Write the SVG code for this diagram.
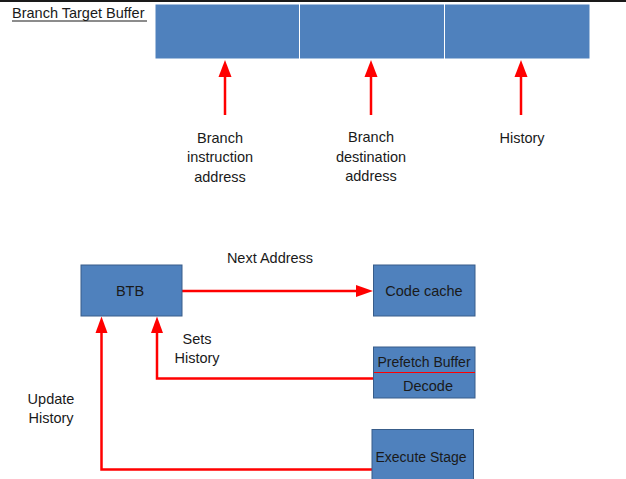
<svg xmlns="http://www.w3.org/2000/svg" width="626" height="479" viewBox="0 0 626 479">
<style>
text{font-family:"Liberation Sans",Arial,sans-serif;font-size:14.5px;fill:#1a1a1a;text-anchor:middle}
.box{fill:#4F81BD;stroke:#385D8A;stroke-width:1}
.cell{fill:#4F81BD;stroke:#ffffff;stroke-width:1}
.wire{fill:none;stroke:#FF0000;stroke-width:2.5}
.ar{fill:#FF0000}
</style>
<rect width="626" height="479" fill="#ffffff"/>
<line x1="0" y1="1" x2="626" y2="1" stroke="#1a1a1a" stroke-width="2"/>
<g id="title">
<text x="12" y="18" style="text-anchor:start">Branch Target Buffer</text>
<line x1="12" y1="21" x2="147" y2="21" stroke="#1a1a1a" stroke-width="1.2"/>
</g>
<g id="btb-entry">
<rect class="cell" x="155" y="4" width="144.5" height="55"/>
<rect class="cell" x="299.5" y="4" width="145" height="55"/>
<rect class="cell" x="444.5" y="4" width="145.5" height="55"/>
</g>
<g id="connectors">
<line class="wire" x1="225" y1="115" x2="225" y2="74" stroke-width="3"/>
<polygon class="ar" points="225,60 218.5,77 231.5,77"/>
<line class="wire" x1="371" y1="115" x2="371" y2="74" stroke-width="3"/>
<polygon class="ar" points="371,60 364.5,77 377.5,77"/>
<line class="wire" x1="521" y1="115" x2="521" y2="74" stroke-width="3"/>
<polygon class="ar" points="521,60 514.5,77 527.5,77"/>
<line class="wire" x1="182" y1="291" x2="358" y2="291"/>
<polygon class="ar" points="373,291 356,285 356,297"/>
<polyline class="wire" points="373,378.5 157,378.5 157,330"/>
<polygon class="ar" points="157,316.5 151,333 163,333"/>
<polyline class="wire" points="372,469.5 101.5,469.5 101.5,330"/>
<polygon class="ar" points="101.5,316.5 95.5,333 107.5,333"/>
</g>
<g id="labels">
<text x="220" y="143">Branch</text>
<text x="220" y="162">instruction</text>
<text x="220" y="182">address</text>
<text x="371" y="142">Branch</text>
<text x="371" y="162">destination</text>
<text x="371" y="181">address</text>
<text x="522" y="143">History</text>
<text x="270" y="263">Next Address</text>
<text x="197" y="344">Sets</text>
<text x="197" y="363">History</text>
<text x="51" y="404">Update</text>
<text x="51" y="423">History</text>
</g>
<g id="btb">
<rect class="box" x="81" y="265" width="101" height="51"/>
<text x="130" y="296">BTB</text>
</g>
<g id="code-cache">
<rect class="box" x="373.5" y="265" width="101.5" height="51"/>
<text x="424" y="296">Code cache</text>
</g>
<g id="prefetch-decode">
<rect class="box" x="373.5" y="347" width="101.5" height="51"/>
<line x1="374" y1="372.5" x2="475" y2="372.5" stroke="#FF0000" stroke-width="1"/>
<text x="424" y="367" style="font-size:14px">Prefetch Buffer</text>
<text x="428" y="391">Decode</text>
</g>
<g id="execute">
<rect class="box" x="372" y="429.5" width="101.5" height="55"/>
<text x="421" y="462" style="font-size:14px">Execute Stage</text>
</g>
</svg>
